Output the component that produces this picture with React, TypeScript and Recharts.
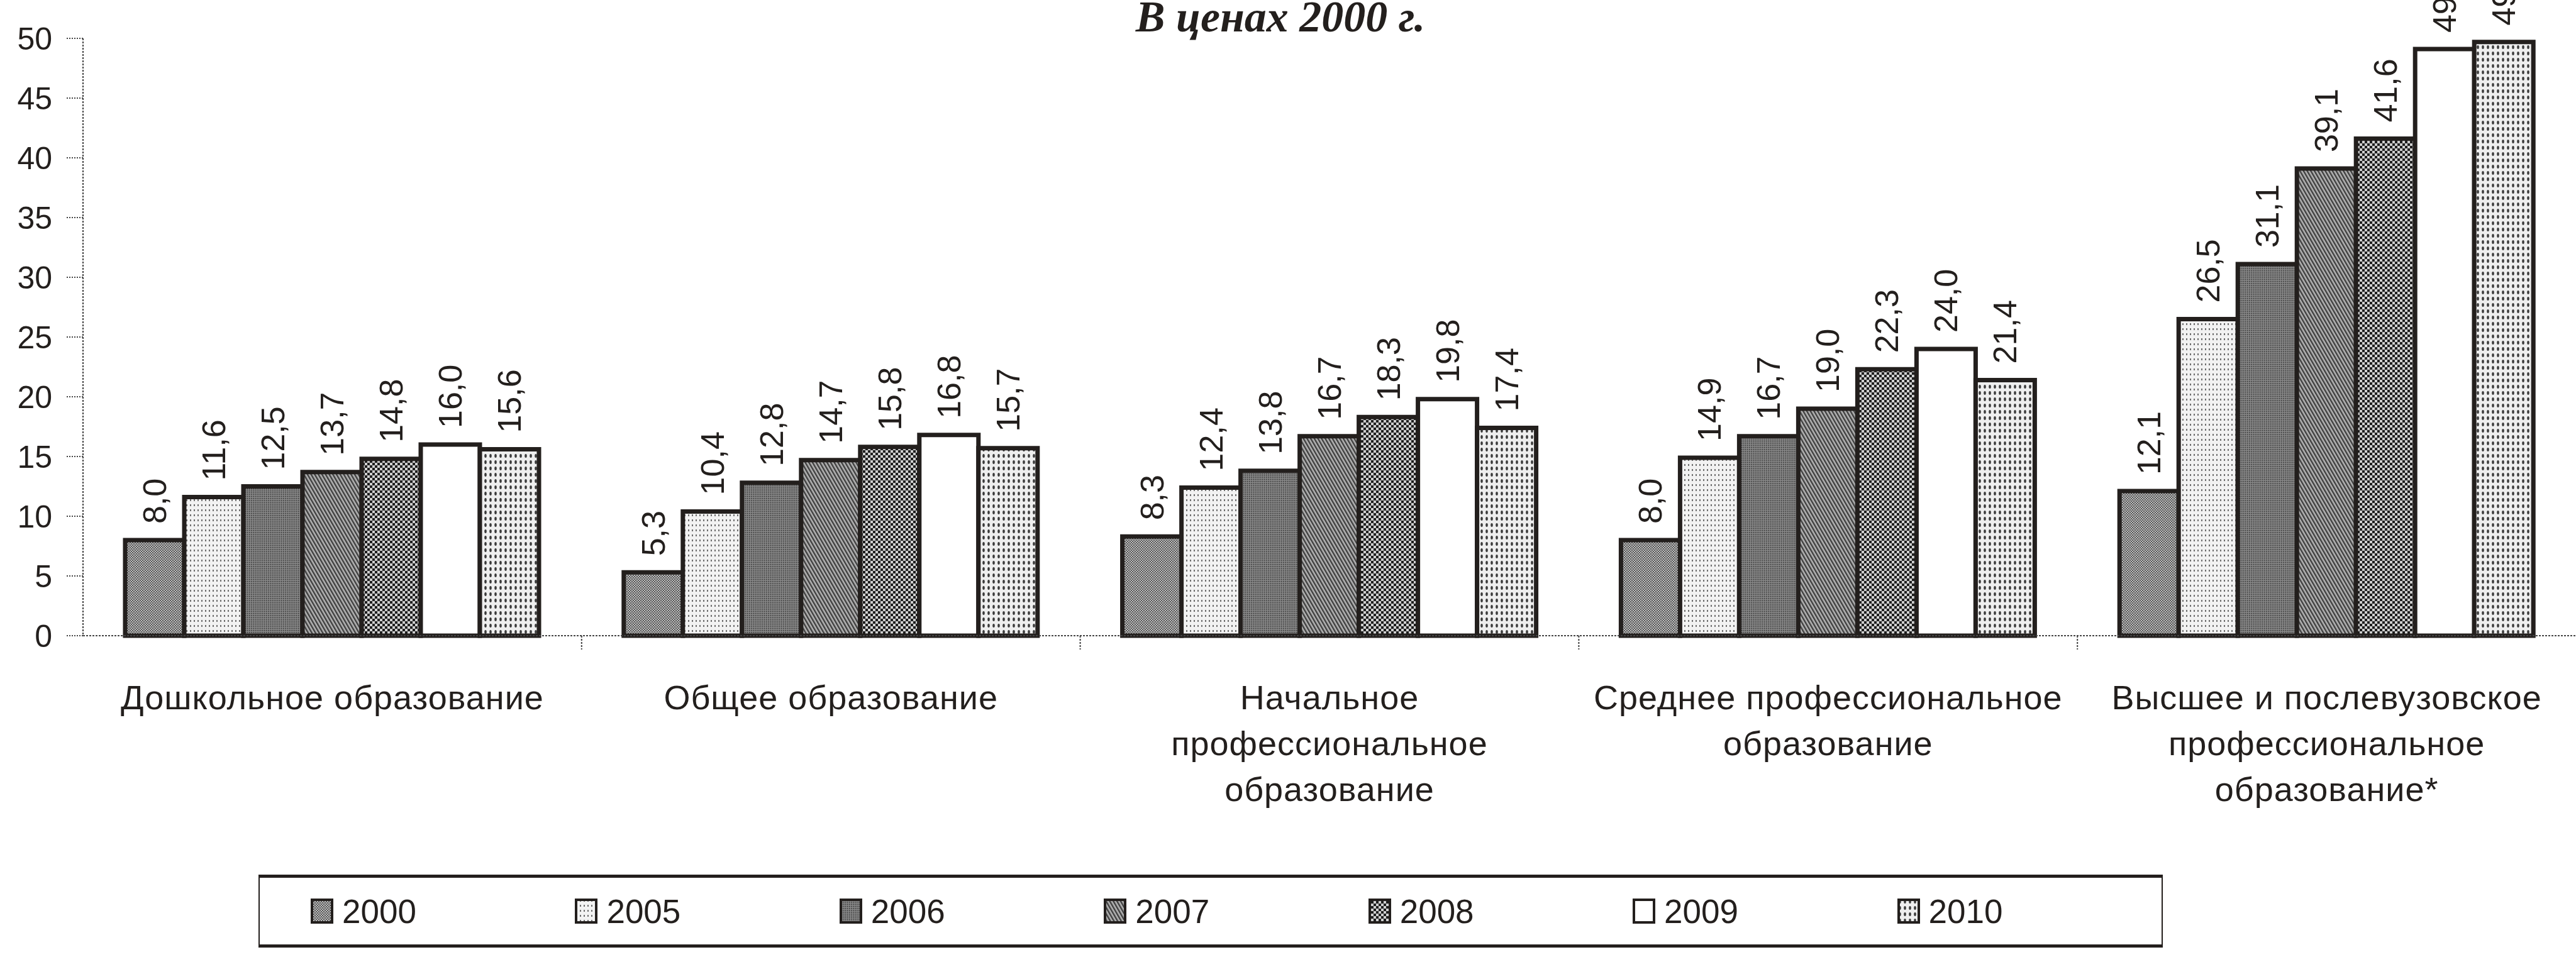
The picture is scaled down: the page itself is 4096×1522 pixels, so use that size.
import React from "react";
import { Bar, BarChart, LabelList, Legend, XAxis, YAxis } from "recharts";

const categories = [
  "Дошкольное образование",
  "Общее образование",
  "Начальное профессиональное образование",
  "Среднее профессиональное образование",
  "Высшее и послевузовское профессиональное образование*",
];
const categoryLines = [
  ["Дошкольное образование"],
  ["Общее образование"],
  ["Начальное", "профессиональное", "образование"],
  ["Среднее профессиональное", "образование"],
  ["Высшее и послевузовское", "профессиональное", "образование*"],
];
const years = ["2000", "2005", "2006", "2007", "2008", "2009", "2010"];
const values2000 = [8.0, 5.3, 8.3, 8.0, 12.1];
const values2005 = [11.6, 10.4, 12.4, 14.9, 26.5];
const values2006 = [12.5, 12.8, 13.8, 16.7, 31.1];
const values2007 = [13.7, 14.7, 16.7, 19.0, 39.1];
const values2008 = [14.8, 15.8, 18.3, 22.3, 41.6];
const values2009 = [16.0, 16.8, 19.8, 24.0, 49.1];
const values2010 = [15.6, 15.7, 17.4, 21.4, 49.7];
const yTicks = [0, 5, 10, 15, 20, 25, 30, 35, 40, 45, 50];
const title = "В ценах 2000 г.";

const seriesValues = [values2000, values2005, values2006, values2007, values2008, values2009, values2010];
const data = categories.map((category, i) => {
  const row: Record<string, string | number> = { category };
  years.forEach((y, k) => (row["y" + y] = seriesValues[k][i]));
  return row;
});

const INK = "#231f1d";
const SANS = "'Liberation Sans', Arial, sans-serif";

function fmt(v: number) {
  return v.toFixed(1).replace(".", ",");
}

function Patterns() {
  return (
    <defs>
      <pattern id="pat2000" width="4" height="4" patternUnits="userSpaceOnUse">
        <rect width="4" height="4" fill="#bdbdbd" />
        <rect x="0" y="0" width="2" height="2" fill="#575757" />
        <rect x="2" y="2" width="2" height="2" fill="#575757" />
      </pattern>
      <pattern id="pat2005" width="6" height="8" patternUnits="userSpaceOnUse">
        <rect width="6" height="8" fill="#f2f2f2" />
        <rect x="2" y="2" width="2" height="3" fill="#6f6f6f" />
      </pattern>
      <pattern id="pat2006" width="3" height="3" patternUnits="userSpaceOnUse">
        <rect width="3" height="3" fill="#8c8c8c" />
        <rect x="0" y="0" width="1.6" height="1.6" fill="#333" />
      </pattern>
      <pattern id="pat2007" width="5" height="5" patternUnits="userSpaceOnUse" patternTransform="rotate(-30)">
        <rect width="5" height="5" fill="#b2b2b2" />
        <rect x="0" y="0" width="2.4" height="5" fill="#3e3e3e" />
      </pattern>
      <pattern id="pat2008" width="8" height="8" patternUnits="userSpaceOnUse">
        <rect width="8" height="8" fill="#cfcfcf" />
        <rect x="0" y="0" width="4" height="4" fill="#1f1f1f" />
        <rect x="4" y="4" width="4" height="4" fill="#1f1f1f" />
      </pattern>
      <pattern id="pat2009" width="8" height="8" patternUnits="userSpaceOnUse">
        <rect width="8" height="8" fill="#ffffff" />
      </pattern>
      <pattern id="pat2010" width="8" height="10" patternUnits="userSpaceOnUse">
        <rect width="8" height="10" fill="#eeeeee" />
        <ellipse cx="4" cy="5" rx="1.8" ry="3" fill="#3a3a3a" />
      </pattern>
    </defs>
  );
}

function ValueLabel(props: any) {
  const { x, y, width, value } = props;
  const cx = Number(x) + Number(width) / 2;
  const ty = Number(y) - 26;
  return (
    <text
      x={cx}
      y={ty}
      transform={`rotate(-90 ${cx} ${ty})`}
      textAnchor="start"
      dominantBaseline="central"
      fontSize={52}
      fontFamily={SANS}
      fill={INK}
    >
      {fmt(Number(value))}
    </text>
  );
}

function CategoryTick(props: any) {
  const { x, y, payload, index } = props;
  const i = categories.indexOf(payload.value);
  const lines = categoryLines[i] || [payload.value];
  const half = payload.offset || 0;
  return (
    <g>
      {index > 0 && (
        <line x1={x - half} x2={x - half} y1={y} y2={y + 22} stroke="#444" strokeWidth={2} strokeDasharray="3 2" />
      )}
      <text textAnchor="middle" fontSize={54} letterSpacing={1} fontFamily={SANS} fill={INK}>
        {lines.map((l: string, k: number) => (
          <tspan key={k} x={x} y={y + 117 + k * 73}>
            {l}
          </tspan>
        ))}
      </text>
    </g>
  );
}

function LegendBox() {
  return (
    <div
      style={{
        display: "flex",
        alignItems: "center",
        height: "100%",
        paddingLeft: 81,
        boxSizing: "border-box",
      }}
    >
      {years.map((y) => (
        <div key={y} style={{ width: 450, display: "flex", alignItems: "center" }}>
          <svg width={36} height={40} style={{ marginRight: 14 }}>
            <rect x={2} y={2} width={32} height={36} fill={`url(#pat${y})`} stroke={INK} strokeWidth={4} />
          </svg>
          <span style={{ fontFamily: SANS, fontSize: 53, color: INK, lineHeight: 1 }}>{y}</span>
        </div>
      ))}
    </div>
  );
}

export default function App() {
  return (
    <div style={{ position: "absolute", left: 0, top: 0, width: 4096, height: 1522, background: "#fff" }}>
      <svg width={0} height={0} style={{ position: "absolute" }}>
        <Patterns />
      </svg>
      <BarChart
        width={4096}
        height={1522}
        data={data}
        margin={{ top: 61, right: 0, bottom: 211, left: 0 }}
        barGap={0}
        barCategoryGap={67}
      >
        <XAxis
          dataKey="category"
          height={300}
          interval={0}
          tickLine={false}
          tickSize={0}
          tickMargin={0}
          axisLine={{ stroke: "#444", strokeWidth: 2, strokeDasharray: "3 2" }}
          tick={<CategoryTick />}
        />
        <YAxis
          width={132}
          domain={[0, 50]}
          ticks={yTicks}
          interval={0}
          tickSize={26}
          tickMargin={23}
          axisLine={{ stroke: "#444", strokeWidth: 2, strokeDasharray: "3 2" }}
          tickLine={{ stroke: "#444", strokeWidth: 2, strokeDasharray: "2 2" }}
          tick={{ fontSize: 50, fontFamily: SANS, fill: INK }}
        />
        <Legend
          verticalAlign="middle"
          align="center"
          layout="horizontal"
          content={() => <LegendBox />}
          wrapperStyle={{
            left: 411,
            top: 1391,
            width: 3028,
            height: 116,
            borderTop: `5px solid ${INK}`,
            borderBottom: `5px solid ${INK}`,
            borderLeft: `2px solid ${INK}`,
            borderRight: `2px solid ${INK}`,
            boxSizing: "border-box",
          }}
        />
        {years.map((y) => (
          <Bar
            key={y}
            dataKey={"y" + y}
            name={y}
            fill={`url(#pat${y})`}
            stroke={INK}
            strokeWidth={7}
            isAnimationActive={false}
          >
            <LabelList dataKey={"y" + y} content={<ValueLabel />} />
          </Bar>
        ))}
      </BarChart>
      <svg width={4096} height={120} style={{ position: "absolute", left: 0, top: 0, pointerEvents: "none" }}>
        <text
          x={2036}
          y={50}
          textAnchor="middle"
          fontFamily="'Liberation Serif', 'Times New Roman', serif"
          fontWeight="bold"
          fontStyle="italic"
          fontSize={70}
          fill={INK}
        >
          {title}
        </text>
      </svg>
    </div>
  );
}
